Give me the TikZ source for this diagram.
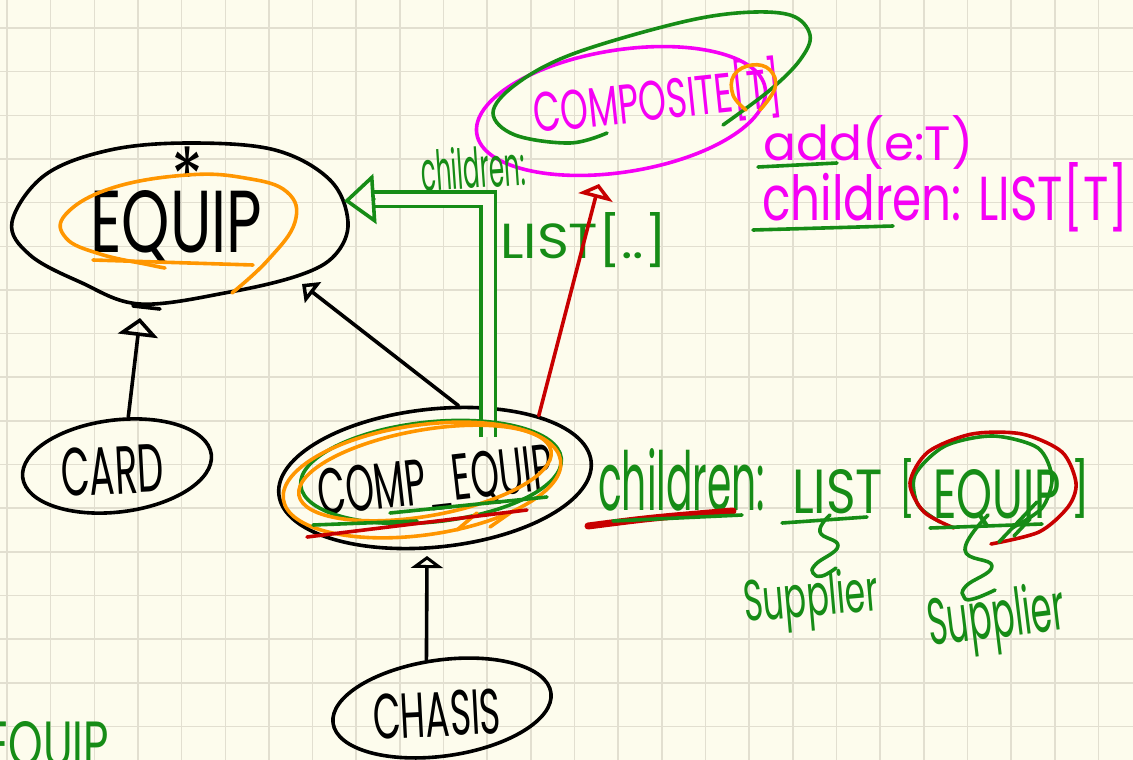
\documentclass[tikz,border=0pt]{standalone}
\usepackage{fontspec}
\usepackage{graphicx}
\newfontfamily\hand{Poppins}
\usetikzlibrary{arrows.meta,shapes.geometric}

\definecolor{paper}{RGB}{253,252,237}
\definecolor{gridc}{RGB}{226,223,208}
\definecolor{pen}{RGB}{22,140,22}
\definecolor{mag}{RGB}{245,0,245}
\definecolor{org}{RGB}{255,150,0}
\definecolor{rd}{RGB}{200,0,0}

% hand lettering squeezed into a given width and height (pt)
\newcommand{\hw}[3]{\resizebox{#1pt}{#2pt}{\hand #3}}

\tikzset{
  gridline/.style={draw=gridc, line width=1.6pt},
  inkline/.style={draw=black, line width=3.6pt, line cap=round, line join=round},
  penline/.style={draw=pen, line width=3.6pt, line cap=round, line join=round},
  orgline/.style={draw=org, line width=3.6pt, line cap=round, line join=round},
  rdline/.style={draw=rd, line width=3.6pt, line cap=round, line join=round},
  cls/.style={ellipse, inkline, inner sep=0pt},
  txt/.style={inner sep=0pt, anchor=base west},
}

\begin{document}
\begin{tikzpicture}[x=1pt, y=-1pt]
\useasboundingbox (0,0) rectangle (1133,760);
\clip (0,0) rectangle (1133,760);

% squared paper
\fill[paper] (0,0) rectangle (1133,760);
\foreach \i in {0,...,25} \draw[gridline] ({7+43.66*\i},0) -- ({7+43.66*\i},760);
\foreach \j in {0,...,17} \draw[gridline] (0,{28+43.66*\j}) -- (1133,{28+43.66*\j});

% ---------- classes ----------
\node[cls, draw=none, minimum width=338pt, minimum height=162pt] (equip) at (180,224) {};
\draw[inkline] plot[smooth cycle, tension=0.6] coordinates {(12,222) (45,175) (110,150) (190,143) (275,150) (330,180) (348,222) (335,255) (300,275) (230,292) (140,304) (80,282) (30,255)};
\draw[inkline] (133,306) -- (160,309);

\node[cls, minimum width=190pt, minimum height=92pt, rotate=7] (card) at (117,466) {};
\node[cls, minimum width=314pt, minimum height=138pt, rotate=6] (ceq) at (435,478) {};
\node[cls, minimum width=220pt, minimum height=96pt, rotate=8] (chasis) at (442,708) {};
\node[cls, draw=mag, minimum width=292pt, minimum height=122pt, rotate=9] (composite) at (621,111) {};

% ---------- labels ----------
\node[txt] (equiplbl) at (90,252) {\hw{172}{62}{EQUIP}};
\node[inner sep=0pt] (mult) at (188,161) {\hw{32}{26}{\raisebox{-0.40em}[0.32em][0pt]{*}}};
\node[txt, rotate=3] (cardlbl) at (62,497) {\hw{103}{48}{CARD}};
\node[txt, rotate=6.5] (ceqlbl) at (320,516) {\hw{237}{46}{COMP\_EQUIP}};
\node[txt, rotate=3] (chasislbl) at (374,740) {\hw{128}{45}{CHASIS}};
\node[txt, rotate=6, text=mag] (complbl) at (535,133) {\hw{250}{52}{COMPOSITE[T]}};
\node[txt, text=mag] (addlbl) at (763,160) {\hw{210}{45}{add(e:T)}};
\node[txt, text=mag] (chtlbl) at (762,220) {\hw{366}{58}{children: LIST[T]}};

\node[txt, rotate=4, text=pen] (chsmall) at (422,192) {\hw{105}{42}{children:}};
\node[txt, text=pen] (listdots) at (500,258) {\hw{167}{46}{LIST[..]}};
\node[txt, text=pen] (chbig) at (598,510) {\hw{167}{62}{children:}};
\node[txt, text=pen] (listlbl) at (792,513) {\hw{91}{44}{LIST}};
\node[txt, text=pen] (lbrack) at (899,508) {\hw{16}{50}{[}};
\node[txt, text=pen] (elemlbl) at (933,518) {\hw{128}{49}{EQUIP}};
\node[txt, text=pen] (rbrack) at (1070,508) {\hw{20}{50}{]}};
\node[txt, rotate=5, text=pen] (supA) at (745,622) {\hw{135}{44}{Supplier}};
\node[txt, rotate=7, text=pen] (supB) at (930,646) {\hw{138}{50}{Supplier}};
\node[txt, text=pen] (equipnote) at (-14,766) {\hw{123}{45}{EQUIP}};

% ---------- inheritance connectors ----------
\coordinate (tipA) at (140,318);
\draw[inkline, -{Triangle[open, length=18pt, width=40pt]}] (card.70) -- (tipA);
\coordinate (tipB) at (302,284);
\draw[inkline, -{Triangle[open, length=14pt, width=26pt]}] (ceq.66) -- (tipB);
\coordinate (tipC) at (427,556);
\draw[inkline, -{Triangle[open, length=12pt, width=32pt]}] (chasis.100) -- (tipC);
\coordinate (tipD) at (599,184);
\draw[rdline, -{Triangle[open, length=14pt, width=35pt]}] (ceq.25) -- (tipD);

% green aggregation (double stroke) into EQUIP
\coordinate (gfoot) at (488,437);
\coordinate (gknee) at (374,199);
\draw[penline, double=paper, double distance=11pt, line cap=butt, line join=miter] (gfoot) |- (gknee);
\draw[penline, -{Triangle[open, length=31pt, width=50pt]}] (gknee) -- (equip.8);

% ---------- coloured markings ----------
% orange around EQUIP
\draw[orgline] plot[smooth, tension=0.7] coordinates {(232,293) (268,260) (295,222) (287,192) (245,178) (187,175) (112,188) (66,214) (66,238) (100,254) (150,265) (165,268)};
\draw[orgline] (93,260) -- (253,265);

% green loop and orange ring on COMPOSITE[T]
\draw[penline] plot[smooth, tension=0.6] coordinates {(607,133) (570,143) (515,135) (493,113) (515,85) (570,55) (670,25) (737,13) (790,15) (810,35) (800,60) (770,90) (723,125)};
\draw[orgline] plot[smooth, tension=0.7] coordinates {(746,110) (733,95) (734,75) (752,65) (770,70) (775,88) (760,110)};

% underlines of the members
\draw[penline] (758,167) -- (837,163);
\draw[penline] (753,230) -- (893,226);

% markings on COMP_EQUIP
\draw[penline, rotate around={6:(431,472)}] (431,472) ellipse [x radius=131, y radius=50];
\draw[orgline, rotate around={8:(422,480)}] (422,480) ellipse [x radius=140, y radius=55];
\draw[orgline, rotate around={10:(425,473)}] (425,473) ellipse [x radius=128, y radius=43];
\draw[orgline] (457,530) -- (477,513);
\draw[orgline] (490,527) -- (510,513);
\draw[penline] (313,525) -- (417,521);
\draw[penline] (390,513) -- (547,497);
\draw[rdline] (307,537) -- (527,510);

% children : LIST[EQUIP]
\draw[rd, line width=7pt, line cap=round] (588,526) .. controls (650,518) .. (733,511);
\draw[penline] (613,521) -- (742,515);
\draw[penline] (782,523) -- (867,517);
\draw[penline] plot[smooth] coordinates {(1012,528) (1042,508) (1052,478) (1038,448) (993,436) (945,446) (915,475) (918,505) (940,522)};
\draw[rdline] plot[smooth] coordinates {(991,544) (1039,532) (1068,507) (1076,483) (1062,452) (1022,434) (972,434) (928,452) (910,483) (924,512) (954,528)};
\draw[penline] (930,528) -- (1042,524);
\draw[penline] (999,542) -- (1037,502);
\draw[penline] (1014,536) -- (1030,519);

% squiggly arrows down to the suppliers
\draw[penline] plot[smooth, tension=0.8] coordinates {(830,515) (820,532) (838,546) (816,564) (813,573) (822,576) (836,568)};
\draw[penline] plot[smooth, tension=0.8] coordinates {(988,515) (965,550) (992,566) (966,586) (964,597) (973,599) (995,590)};
\end{tikzpicture}
\end{document}
